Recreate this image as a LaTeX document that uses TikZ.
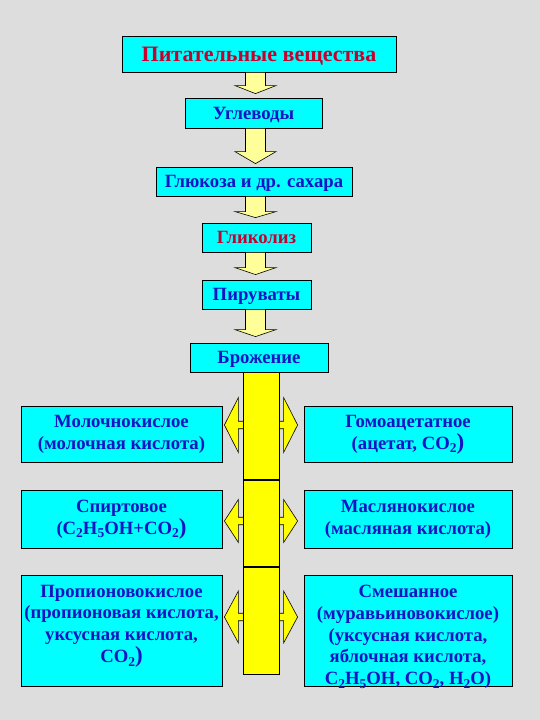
\documentclass[tikz,border=0pt]{standalone}
\usepackage{fontspec}
\setmainfont{Liberation Serif}
\usetikzlibrary{calc}
\definecolor{bg}{RGB}{221,221,221}
\definecolor{boxcyan}{RGB}{0,255,255}
\definecolor{txtblue}{RGB}{20,20,195}
\definecolor{txtred}{RGB}{200,0,45}
\definecolor{arrowyellow}{RGB}{255,255,153}
\definecolor{baryellow}{RGB}{255,255,0}
\newcommand\lowidx[1]{\raisebox{-0.45ex}{\fontsize{13.5pt}{13.5pt}\selectfont #1}}
\newcommand\bigparen{{\fontsize{23pt}{23pt}\selectfont )}}
\newcommand\vertarrow[4]{%
 \path[varrow] let \p1=(#1.south), \p2=(#2.north) in
  (245.5pt,\y1) -- (245.5pt,\y2+#3pt+#4pt) -- (235pt,\y2+#3pt+#4pt) -- (255.5pt,\y2+#3pt)
  -- (276pt,\y2+#3pt+#4pt) -- (265.5pt,\y2+#3pt+#4pt) -- (265.5pt,\y1) -- cycle;}
\newcommand\sidearrows[4]{%
 \path[harrow] let \p1=(#1.east), \p2=(#2.west) in
  (\x1+2pt,-#3pt) -- (\x1+16pt,-#3pt+#4pt) -- (\x1+16pt,-#3pt+3.75pt) -- (\x2-20pt,-#3pt+3.75pt)
  -- (\x2-20pt,-#3pt+#4pt) -- (\x2-6pt,-#3pt) -- (\x2-20pt,-#3pt-#4pt) -- (\x2-20pt,-#3pt-3.75pt)
  -- (\x1+16pt,-#3pt-3.75pt) -- (\x1+16pt,-#3pt-#4pt) -- cycle;}
\begin{document}
\begin{tikzpicture}[x=1pt,y=-1pt,
  box/.style={draw=black, line width=0.8pt, fill=boxcyan, inner sep=0pt,
    font=\fontsize{18.7pt}{21.7pt}\selectfont\bfseries, text=txtblue,
    text height=12.3pt, text depth=0pt},
  txt/.style={inner sep=0pt, align=center, font=\fontsize{18.7pt}{21.7pt}\selectfont\bfseries, text=txtblue},
  varrow/.style={draw=black, line width=0.6pt, fill=arrowyellow, line join=miter},
  harrow/.style={draw=black, line width=0.6pt, fill=baryellow, line join=miter},
  barseg/.style={draw=black, line width=0.8pt, fill=baryellow, inner sep=0pt, minimum width=36pt, anchor=north}
]
\fill[bg] (0,0) rectangle (540,720);
\useasboundingbox (0,0) rectangle (540,720);

% main chain
\node[box, minimum width=274pt, minimum height=36pt, text=txtred, text height=14.5pt,
      font=\fontsize{22pt}{24pt}\selectfont\bfseries] (n0) at (259,54) {Питательные вещества};
\node[box, minimum width=137pt, minimum height=30pt] (n1) at (253.5,113) {Углеводы};
\node[box, minimum width=196pt, minimum height=29pt] (n2) at (254,181.5) {Глюкоза и др. сахара};
\node[box, minimum width=109pt, minimum height=29pt, text=txtred] (n3) at (256.5,237.5) {Гликолиз};
\node[box, minimum width=109pt, minimum height=29pt] (n4) at (256.5,294.5) {Пируваты};
\node[box, minimum width=138pt, minimum height=29pt] (n5) at (259,357.5) {Брожение};

\vertarrow{n0}{n1}{4}{8}
\vertarrow{n1}{n2}{3}{12}
\vertarrow{n2}{n3}{5}{6}
\vertarrow{n3}{n4}{5}{7}
\vertarrow{n4}{n5}{6}{7}

% fermentation types
\node[box, minimum width=201pt, minimum height=56pt] (l1) at (121.5,434) {};
\node[txt] (l1t) at (121.5,434.5) {Молочнокислое\\(молочная кислота)};
\node[box, minimum width=208pt, minimum height=56pt] (r1) at (408,434) {};
\node[txt] (r1t) at (408,434.5) {Гомоацетатное\\(ацетат, CO\lowidx{2}\bigparen};

\node[box, minimum width=201pt, minimum height=58pt] (l2) at (121.5,519) {};
\node[txt] (l2t) at (121.5,519.5) {Спиртовое\\(C\lowidx{2}H\lowidx{5}OH+CO\lowidx{2}\bigparen};
\node[box, minimum width=208pt, minimum height=58pt] (r2) at (408,519) {};
\node[txt] (r2t) at (408,519.5) {Маслянокислое\\(масляная кислота)};

\node[box, minimum width=201pt, minimum height=111pt] (l3) at (121.5,630.5) {};
\node[txt] (l3t) at (121.5,626) {Пропионовокислое\\(пропионовая кислота,\\уксусная кислота,\\CO\lowidx{2}\bigparen};
\node[box, minimum width=208pt, minimum height=111pt] (r3) at (408,630.5) {};
\node[txt] (r3t) at (408,637) {Смешанное\\(муравьиновокислое)\\(уксусная кислота,\\яблочная кислота,\\C\lowidx{2}H\lowidx{5}OH, CO\lowidx{2}, H\lowidx{2}O)};

\sidearrows{l1}{r1}{425}{27.5}
\sidearrows{l2}{r2}{521}{21.5}
\sidearrows{l3}{r3}{617}{26}

% yellow bar
\node[barseg, minimum height=107pt] (s1) at (261,372) {};
\node[barseg, minimum height=86pt] (s2) at (s1.south) {};
\node[barseg, minimum height=107pt] (s3) at (s2.south) {};
\end{tikzpicture}
\end{document}
